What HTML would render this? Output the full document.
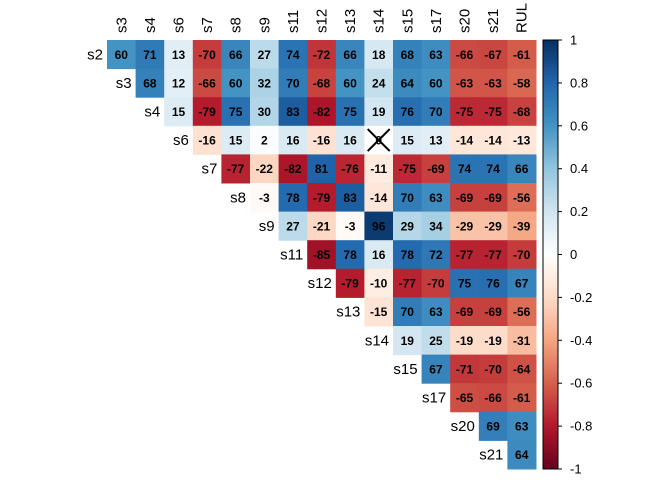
<!DOCTYPE html>
<html><head><meta charset="utf-8"><style>body{margin:0;background:#fff}svg{display:block}</style></head>
<body>
<svg id="c" width="672" height="480" xmlns="http://www.w3.org/2000/svg" font-family="Liberation Sans, sans-serif"></svg>
<script>
const rowLabels=["s2","s3","s4","s6","s7","s8","s9","s11","s12","s13","s14","s15","s17","s20","s21"];
const colLabels=["s3","s4","s6","s7","s8","s9","s11","s12","s13","s14","s15","s17","s20","s21","RUL"];
const rowValues=[
[60,71,13,-70,66,27,74,-72,66,18,68,63,-66,-67,-61],
[68,12,-66,60,32,70,-68,60,24,64,60,-63,-63,-58],
[15,-79,75,30,83,-82,75,19,76,70,-75,-75,-68],
[-16,15,2,16,-16,16,0,15,13,-14,-14,-13],
[-77,-22,-82,81,-76,-11,-75,-69,74,74,66],
[-3,78,-79,83,-14,70,63,-69,-69,-56],
[27,-21,-3,96,29,34,-29,-29,-39],
[-85,78,16,78,72,-77,-77,-70],
[-79,-10,-77,-70,75,76,67],
[-15,70,63,-69,-69,-56],
[19,25,-19,-19,-31],
[67,-71,-70,-64],
[-65,-66,-61],
[69,63],
[64]];
const insignificant=[[3,6]];
const legendTicks=[1,0.8,0.6,0.4,0.2,0,-0.2,-0.4,-0.6,-0.8,-1];
const pal=["#67001F","#B2182B","#D6604D","#F4A582","#FDDBC7","#FFFFFF","#D1E5F0","#92C5DE","#4393C3","#2166AC","#053061"];
function col(v){const t=(v+1)/2*(pal.length-1);const i=Math.min(pal.length-2,Math.floor(t)),f=t-i;
const a=pal[i],b=pal[i+1];const h=(s,k)=>parseInt(s.substr(1+2*k,2),16);
return "rgb("+[0,1,2].map(k=>Math.round(h(a,k)+(h(b,k)-h(a,k))*f)).join(",")+")";}
const X0=107,Y0=40,CW=28.6,CH=28.6;
const xs=j=>X0+j*CW, ys=i=>Y0+i*CH;
const svg=document.getElementById('c');const NS="http://www.w3.org/2000/svg";
function mk(t,a,p){const e=document.createElementNS(NS,t);for(const k in a)e.setAttribute(k,a[k]);(p||svg).appendChild(e);return e;}
colLabels.forEach((l,j)=>{const x=xs(j)+CW/2+5,y=33;
const t=mk('text',{x:x,y:y,'font-size':15,transform:`rotate(-90 ${x} ${y})`});t.textContent=l;

});
rowLabels.forEach((l,i)=>{const t=mk('text',{x:xs(i)-4,y:ys(i)+CH/2+5,'font-size':15,'text-anchor':'end'});t.textContent=l;

});
rowValues.forEach((r,i)=>r.forEach((v,k)=>{const j=i+k;
const g=mk('rect',{x:xs(j),y:ys(i),width:CW+0.5,height:CH+0.5,fill:col(v/100)});


const t=mk('text',{x:xs(j)+CW/2,y:ys(i)+CH/2+4.5,'font-size':12,'font-weight':'bold','text-anchor':'middle',fill:'#000'});t.textContent=v;

}));
insignificant.forEach(([i,k])=>{const j=i+k,x=xs(j)+CW/2,y=ys(i)+CH/2,d=11;
const p=mk('path',{d:`M${x-d} ${y-d}L${x+d} ${y+d}M${x+d} ${y-d}L${x-d} ${y+d}`,stroke:'#000','stroke-width':2});

});
const LX=543,LW=15,LT=40,LB=469;
const defs=mk('defs',{});const gr=mk('linearGradient',{id:'lg',x1:0,y1:1,x2:0,y2:0},defs);
pal.forEach((c,i)=>mk('stop',{offset:i/(pal.length-1),'stop-color':c},gr));
const bar=mk('rect',{x:LX,y:LT,width:LW,height:LB-LT,fill:'url(#lg)',stroke:'#000','stroke-width':1});


legendTicks.forEach(v=>{const y=LT+(1-v)/2*(LB-LT);
mk('line',{x1:LX+LW,x2:LX+LW+4,y1:y,y2:y,stroke:'#000'});
const t=mk('text',{x:LX+LW+12,y:y+4.5,'font-size':13});t.textContent=v;

});
</script>
</body></html>
